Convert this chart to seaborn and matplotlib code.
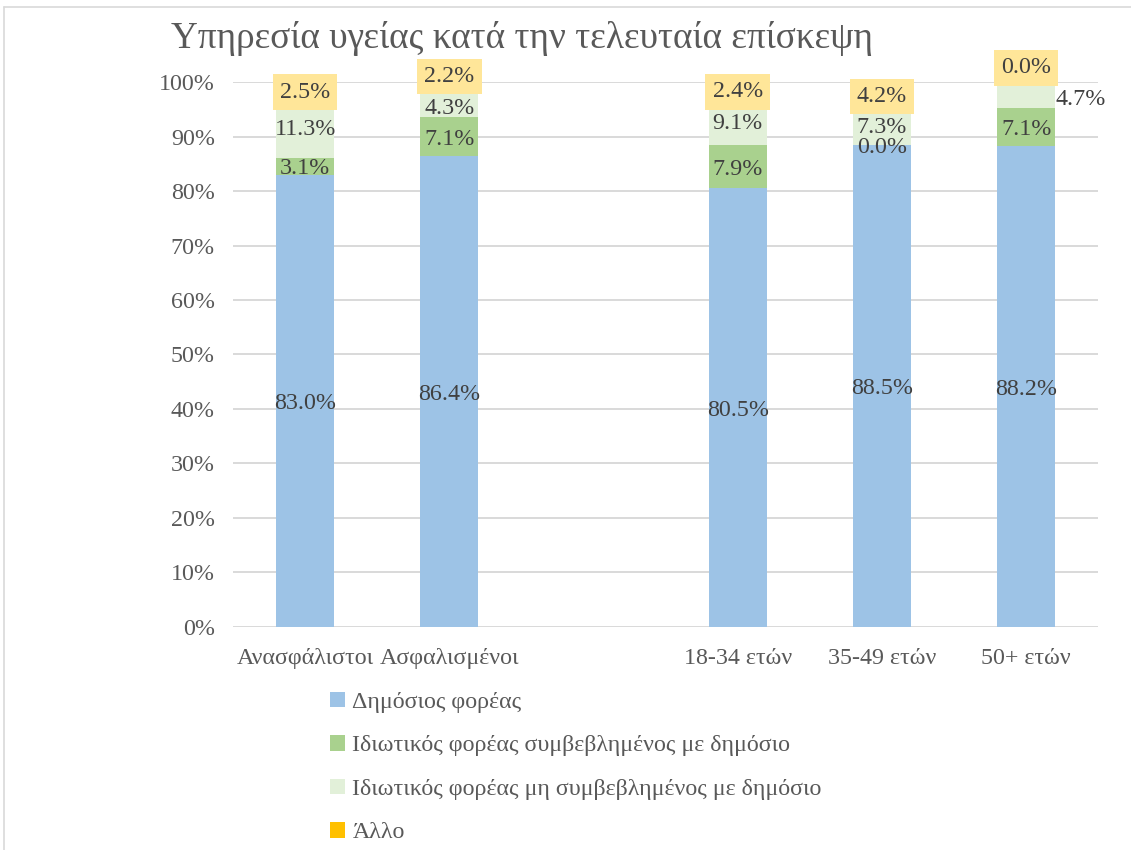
import numpy as np
import pandas as pd
import matplotlib
matplotlib.use("Agg")
import matplotlib.pyplot as plt
import matplotlib.transforms as mtransforms
import seaborn as sns
from matplotlib.patches import Patch
from matplotlib.lines import Line2D

# ---------------- data ----------------
categories = ["Ανασφάλιστοι", "Ασφαλισμένοι", "", "18-34 ετών", "35-49 ετών", "50+ ετών"]
series_names = [
    "Δημόσιος φορέας",
    "Ιδιωτικός φορέας συμβεβλημένος με δημόσιο",
    "Ιδιωτικός φορέας μη συμβεβλημένος με δημόσιο",
    "Άλλο",
]
public_vals = [83.0, 86.4, np.nan, 80.5, 88.5, 88.2]
private_contract_vals = [3.1, 7.1, np.nan, 7.9, 0.0, 7.1]
private_noncontract_vals = [11.3, 4.3, np.nan, 9.1, 7.3, 4.7]
other_vals = [2.5, 2.2, np.nan, 2.4, 4.2, 0.0]

# ---------------- style ----------------
colors = ["#9DC3E6", "#A9D18E", "#E2F0D9", "#FFC000"]
label_box_color = "#FFE699"
text_color = "#404040"
axis_text_color = "#595959"
grid_color = "#D9D9D9"
fs = 17.3

sns.set_theme(style="white")
plt.rcParams["font.family"] = ["Liberation Serif", "DejaVu Serif"]

fig = plt.figure(figsize=(11.31, 8.5), dpi=100)
ax = fig.add_axes([0.206, 0.2624, 0.765, 0.6411])

values = np.array([public_vals, private_contract_vals,
                   private_noncontract_vals, other_vals], dtype=float)
cum = np.cumsum(values, axis=0)
bottoms = cum - values

# draw cumulative bars from top series down
for i in range(len(series_names) - 1, -1, -1):
    df = pd.DataFrame({"cat": categories, "val": cum[i]})
    sns.barplot(data=df, x="cat", y="val", order=categories, color=colors[i],
                saturation=1, width=0.4, linewidth=0, errorbar=None, ax=ax)

# label placement tweaks (dx in category units, dy in percent points)
label_offsets = {
    (1, 3): (0.0, 2.6),
    (5, 3): (0.0, 3.1),
    (5, 2): (0.38, -0.4),
}
label_trans = mtransforms.offset_copy(ax.transData, fig=fig, x=0, y=-2, units="points")

for i in range(len(series_names)):
    for j, cat in enumerate(categories):
        v = values[i, j]
        if np.isnan(v):
            continue
        dx, dy = label_offsets.get((j, i), (0.0, 0.0))
        y = bottoms[i, j] + v / 2 + dy
        kw = {}
        if i == 3:
            kw["bbox"] = dict(boxstyle="square,pad=0.3", fc=label_box_color, ec="none")
        ax.text(j + dx, y, f"{v:.1f}%", ha="center", va="center", transform=label_trans,
                fontsize=fs, color=text_color, zorder=5, **kw)

ax.set_ylim(0, 100)
ax.set_yticks(np.arange(0, 101, 10))
ax.set_yticklabels([f"{t}%" for t in range(0, 101, 10)])
ax.set_xlim(-0.5, len(categories) - 0.5)
ax.set_xlabel("")
ax.set_ylabel("")
ax.yaxis.grid(True, color=grid_color, linewidth=1.4)
ax.set_axisbelow(True)
for s in ax.spines.values():
    s.set_visible(False)
ax.tick_params(axis="y", length=0, pad=13, labelsize=fs, labelcolor=axis_text_color)
ax.tick_params(axis="x", length=0, pad=15, labelsize=fs, labelcolor=axis_text_color)

fig.text(0.4615, 0.955, "Υπηρεσία υγείας κατά την τελευταία επίσκεψη",
         ha="center", va="center", fontsize=26.8, color=axis_text_color)

handles = [Patch(facecolor=c, edgecolor="none") for c in colors]
fig.legend(handles, series_names, loc="upper left", bbox_to_anchor=(0.292, 0.186),
           frameon=False, fontsize=fs, labelcolor=axis_text_color,
           handlelength=0.62, handleheight=0.62, handletextpad=0.3,
           labelspacing=0.92, borderpad=0, borderaxespad=0)

# outer chart border
fig.add_artist(Line2D([4 / 1131, 4 / 1131], [0, 1 - 7 / 850],
                      transform=fig.transFigure, color=grid_color, lw=1.2))
fig.add_artist(Line2D([4 / 1131, 1], [1 - 7 / 850, 1 - 7 / 850],
                      transform=fig.transFigure, color=grid_color, lw=1.2))

fig.savefig("out.png", dpi=100)
